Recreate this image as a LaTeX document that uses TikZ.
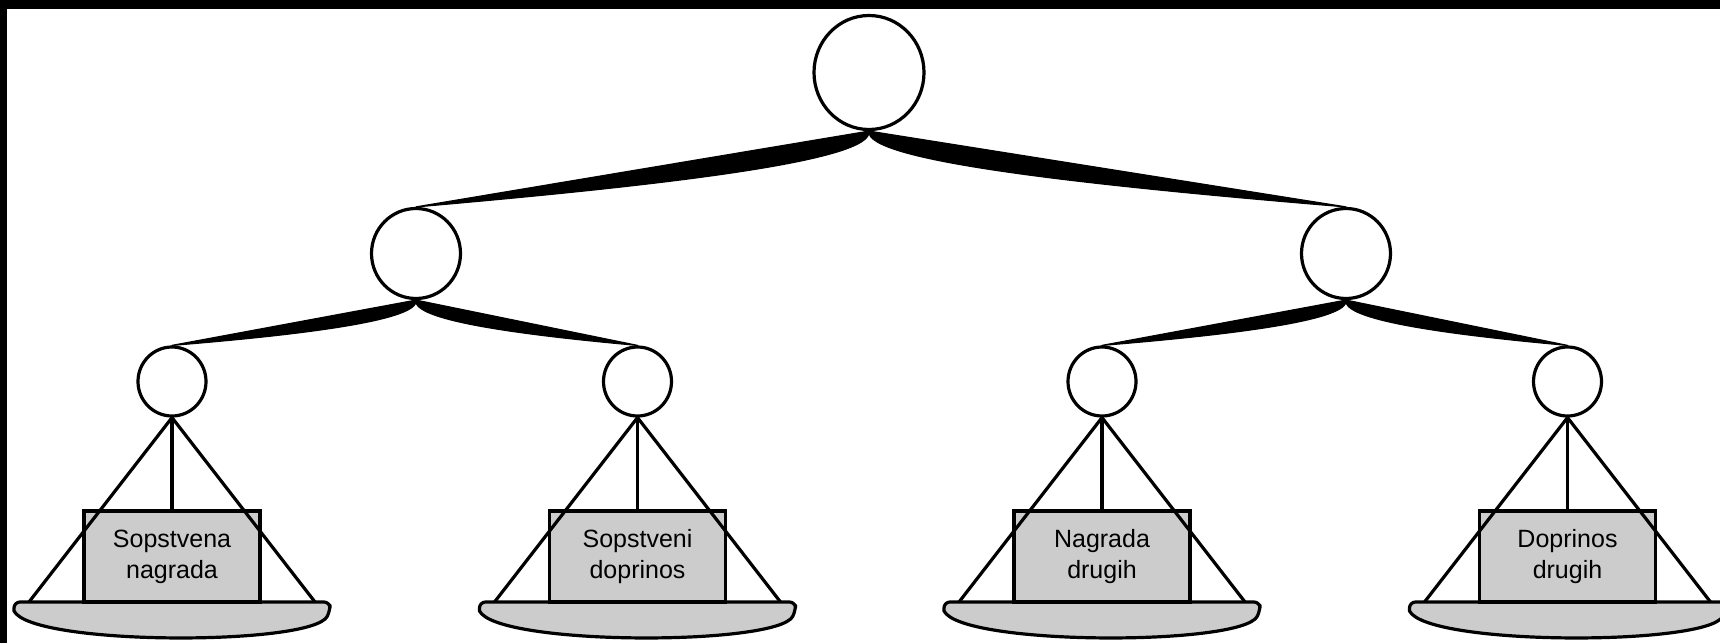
\documentclass[tikz,border=0pt]{standalone}
\usepackage{fontspec}
\setmainfont{Liberation Sans}
\usetikzlibrary{calc,shapes.geometric}
\tikzset{
  ring/.style={ellipse,draw,line width=1.6pt,inner sep=0pt,fill=white},
  weight/.style={rectangle,draw,line width=1.6pt,fill=black!20,inner sep=0pt,
    minimum width=88pt,minimum height=45.5pt,align=center,
    font=\fontsize{12.5pt}{15.5pt}\selectfont},
  rope/.style={line width=1.6pt},
  panshape/.style={draw,line width=1.6pt,fill=black!20,line join=round},
}
\newcommand\tbranch[5]{%
  \filldraw[line width=0.6pt,line join=round] (#1) -- (#2) .. controls ($(#1)!0.45!(#2)!#5!#3:(#2)$) and ($(#1)!#4!#3:(#2)$) .. (#1) -- cycle;}
\begin{document}
\begin{tikzpicture}[x=0.5pt,y=-0.5pt]
\useasboundingbox (0,0) rectangle (1720,643);
\fill[black] (0,0) rectangle (1720,9);
\fill[black] (0,0) rectangle (7,643);
% circles
\node[ring,minimum width=55pt,minimum height=57pt] (top) at (869,72.5) {};
\node[ring,minimum width=44.5pt,minimum height=45pt] (ml) at (416,253.5) {};
\node[ring,minimum width=44.5pt,minimum height=45pt] (mr) at (1346,253.5) {};
\node[ring,minimum width=34pt,minimum height=34.5pt] (s1) at (172,381.5) {};
\node[ring,minimum width=34pt,minimum height=34.5pt] (s2) at (637.5,381.5) {};
\node[ring,minimum width=34pt,minimum height=34.5pt] (s3) at (1102,381.5) {};
\node[ring,minimum width=34pt,minimum height=34.5pt] (s4) at (1567.5,381.5) {};
% branches
\tbranch{top.south}{ml.north}{90}{15pt}{10pt}
\tbranch{top.south}{mr.north}{-90}{15pt}{10pt}
\tbranch{ml.south}{s1.north}{90}{10pt}{7pt}
\tbranch{ml.south}{s2.north}{-90}{10pt}{7pt}
\tbranch{mr.south}{s3.north}{90}{10pt}{7pt}
\tbranch{mr.south}{s4.north}{-90}{10pt}{7pt}
% scales
\foreach \i/\cx/\txt in {1/172/{Sopstvena\\nagrada},2/637.5/{Sopstveni\\doprinos},3/1102/{Nagrada\\drugih},4/1567.5/{Doprinos\\drugih}}{
  \path[panshape,rounded corners=3pt] (\cx-158,602) -- (\cx+158,602) -- (\cx+158,611)
     [sharp corners] .. controls (\cx+140,646) and (\cx-140,646) .. (\cx-158,611) [rounded corners=3pt] -- cycle;
  \coordinate (pl\i) at (\cx-143,602);
  \coordinate (pr\i) at (\cx+143,602);
  \node[weight] (b\i) at (\cx,556.5) {\txt};
  \draw[rope] (s\i.south) -- (b\i.north);
  \draw[rope] (s\i.south) -- (pl\i);
  \draw[rope] (s\i.south) -- (pr\i);
}
\end{tikzpicture}
\end{document}
